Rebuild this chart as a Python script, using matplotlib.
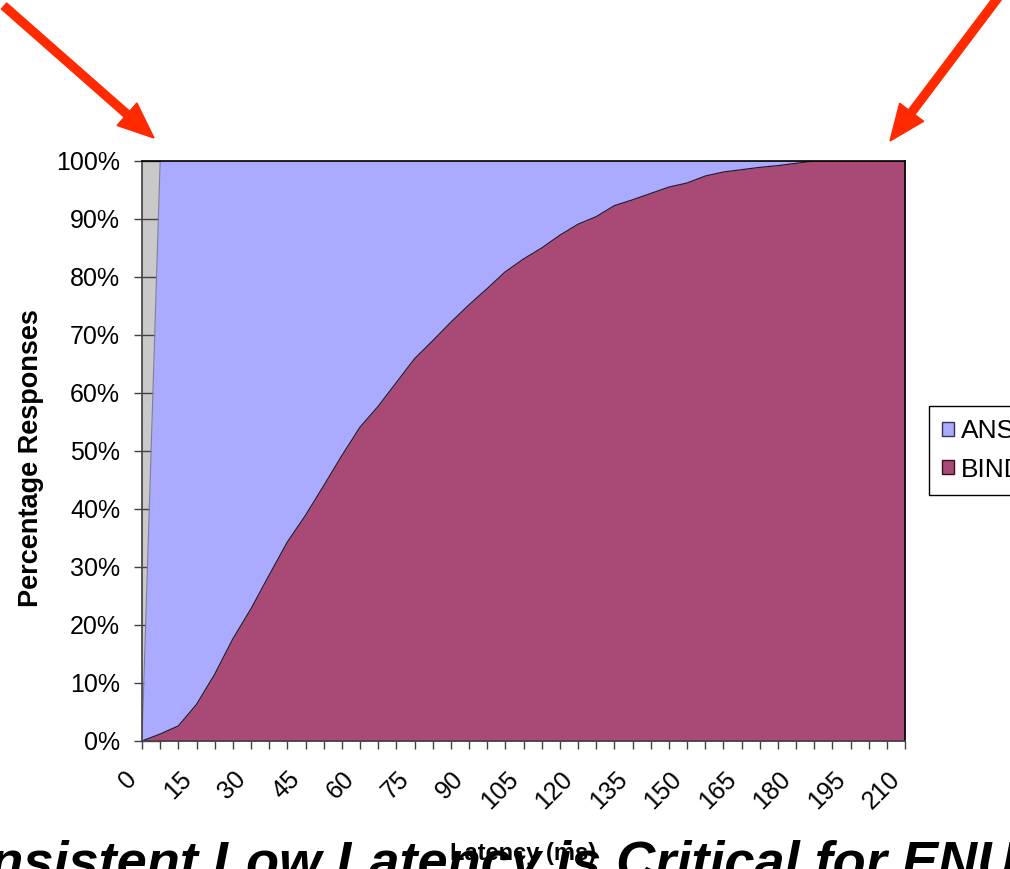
import matplotlib
matplotlib.use("Agg")
import matplotlib.pyplot as plt
from matplotlib.patches import Patch, FancyArrow
from matplotlib.transforms import ScaledTranslation, IdentityTransform
from matplotlib.ticker import PercentFormatter

plt.rcParams['font.family'] = ['Liberation Sans', 'DejaVu Sans']

# latency buckets (ms) and cumulative share of responses
latency = list(range(0, 211, 5))
ans = [0.0] + [1.0] * 42
bind = [0.0, 0.012, 0.026, 0.063, 0.115, 0.176, 0.228, 0.286, 0.343, 0.389,
        0.440, 0.492, 0.541, 0.577, 0.618, 0.659, 0.690, 0.722, 0.752, 0.780,
        0.809, 0.831, 0.850, 0.872, 0.891, 0.904, 0.923, 0.933, 0.944, 0.955,
        0.962, 0.974, 0.981, 0.985, 0.989, 0.992, 0.996, 1.0, 1.0, 1.0,
        1.0, 1.0, 1.0]
series_names = ['ANS', 'BIND']
xtick_labels = [str(v) if v % 15 == 0 else '' for v in latency]

ans_color = '#AAAAFF'
bind_color = '#A94A76'
W, H = 1010, 869

fig = plt.figure(figsize=(W / 100, H / 100), dpi=100)
ax = fig.add_axes([142 / W, 1 - 741 / H, 763 / W, 580 / H])
ax.set_facecolor('#C9C9C9')
ax.set_axisbelow(True)

ax.fill_between(latency, ans, 0, color=ans_color, lw=0, zorder=1)
ax.plot(latency, ans, color='#7C7C9C', lw=0.8, zorder=1.1)
ax.fill_between(latency, bind, 0, color=bind_color, lw=0, zorder=1.2)
ax.plot(latency, bind, color='#2A1A26', lw=0.9, zorder=1.3)

ax.set_xlim(0, 210)
ax.set_ylim(0, 1)

# x ticks every 5 ms, labels every 15 ms
ax.set_xticks(latency)
ax.set_xticklabels(xtick_labels, rotation=45, ha='right', va='center',
                   rotation_mode='anchor', fontsize=18)
ax.tick_params(axis='x', direction='out', length=5.8, width=1,
               color='#404040', pad=19)
shift = ScaledTranslation(-0.09, 0, fig.dpi_scale_trans)
for lab in ax.get_xticklabels():
    lab.set_transform(lab.get_transform() + shift)

yt = [i / 10 for i in range(11)]
ax.set_yticks(yt)
ax.yaxis.set_major_formatter(PercentFormatter(1.0, decimals=0))
ax.tick_params(axis='y', direction='out', length=5.8, width=1,
               color='#404040', pad=10, labelsize=18)
# inner part of the y ticks, hidden behind the areas
ax.yaxis.remove_overlapping_locs = False
ax.set_yticks(yt, minor=True)
ax.tick_params(axis='y', which='minor', direction='in', length=14, width=1,
               color='#404040')
ax.tick_params(axis='x', which='minor', bottom=False)

for side in ['left', 'bottom']:
    ax.spines[side].set_color('#404040')
    ax.spines[side].set_linewidth(1.2)
for side in ['top', 'right']:
    ax.spines[side].set_color('black')
    ax.spines[side].set_linewidth(1.2)

fig.text(31 / W, 1 - 458 / H, 'Percentage Responses', rotation=90,
         ha='center', va='center', fontsize=19.5, fontweight='bold')

handles = [Patch(facecolor=ans_color, edgecolor='#333355', lw=1),
           Patch(facecolor=bind_color, edgecolor='#331122', lw=1)]
leg = fig.legend(handles, series_names, loc='upper left',
                 bbox_to_anchor=(929 / W, 1 - 406 / H),
                 bbox_transform=fig.transFigure, fontsize=19,
                 handlelength=0.45, handleheight=0.45, handletextpad=0.25,
                 borderpad=0.5, labelspacing=0.55, borderaxespad=0,
                 fancybox=False, framealpha=1)
leg.get_frame().set_edgecolor('black')
leg.get_frame().set_linewidth(1)

# big slide title, cut off on both sides
title = 'Consistent Low Latency is Critical for ENUM'
tstyle = dict(fontsize=39, fontweight='bold', fontstyle='italic')
renderer = fig.canvas.get_renderer()
probe = fig.text(0, 0, 'Consistent Low Latency is ', **tstyle)
prefix_w = probe.get_window_extent(renderer).width
probe.remove()
fig.text((616 - prefix_w) / W, 1 - 879 / H, title, ha='left',
         va='baseline', **tstyle)

fig.text(523 / W, 1 - 860 / H, 'Latency (ms)', ha='center', va='baseline',
         fontsize=17, fontweight='bold')


def arrow(x0, y0, x1, y1):
    a = FancyArrow(x0, H - y0, x1 - x0, -(y1 - y0), width=8, head_width=30,
                   head_length=36, length_includes_head=True,
                   color='#FF2A00', transform=IdentityTransform())
    fig.add_artist(a)


arrow(4, 6, 154, 138)
arrow(1000, -5, 890, 141)

fig.savefig('out.png', dpi=100)
